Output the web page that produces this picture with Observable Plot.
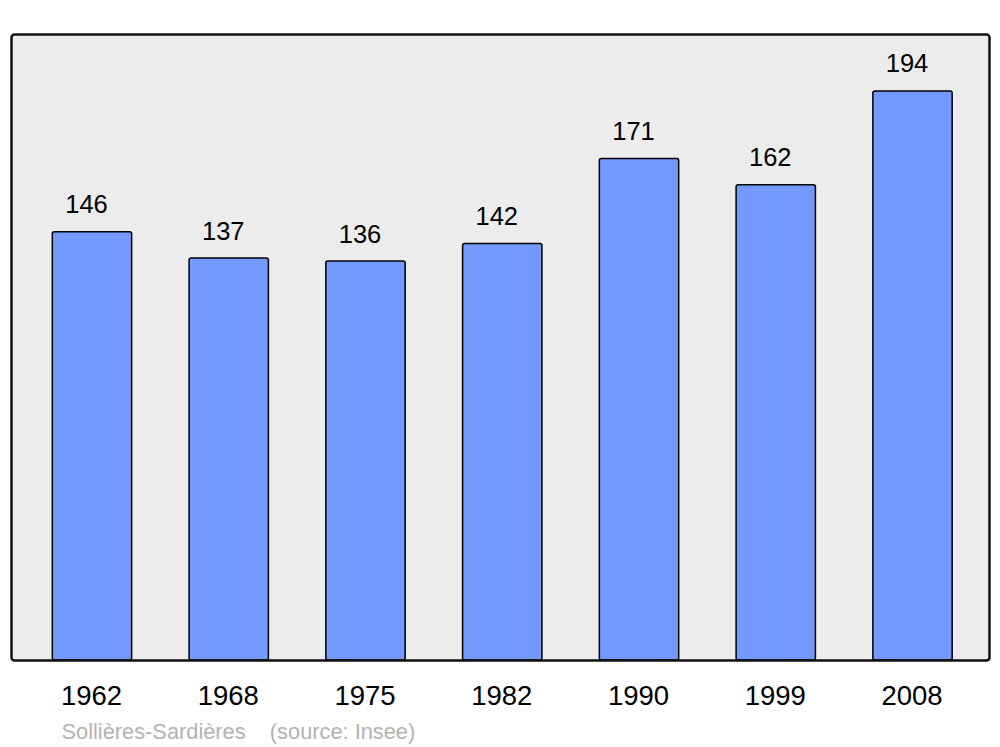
<!DOCTYPE html>
<html>
<head>
<meta charset="utf-8">
<script src="https://cdn.jsdelivr.net/npm/d3@7"></script>
<script src="https://cdn.jsdelivr.net/npm/@observablehq/plot@0.6"></script>
<style>
  html, body { margin: 0; padding: 0; background: #fff; }
</style>
</head>
<body>
<div id="chart"></div>
<script>
const years = ["1962", "1968", "1975", "1982", "1990", "1999", "2008"];
const population = [146, 137, 136, 142, 171, 162, 194];
const captionText = ["Sollières-Sardières    (source: Insee)"];

const data = years.map((year, i) => ({year, pop: population[i]}));
const yMax = d3.max(population) * 1.1;

const chart = Plot.plot({
  width: 1000,
  height: 747,
  marginTop: 34,
  marginBottom: 87,
  marginLeft: 11,
  marginRight: 11,
  style: {fontFamily: "'Liberation Sans', Arial, sans-serif", background: "#fff", overflow: "visible"},
  x: {domain: years, round: false, paddingInner: 0.42, paddingOuter: 0.21, insetLeft: 12.6, insetRight: 8.1, label: null},
  y: {domain: [0, yMax], axis: null},
  marks: [
    Plot.frame({fill: "#ececec", rx: 3}),
    Plot.barY(data, {x: "year", y: "pop", fill: "#7399ff", stroke: "#000", strokeWidth: 1.5, rx: 2}),
    Plot.frame({stroke: "#111", strokeWidth: 2.5, rx: 3}),
    Plot.text(data, {x: "year", y: "pop", text: d => String(d.pop), lineAnchor: "bottom", dy: -19, dx: -6, fontSize: 25.5, fill: "#000"}),
    Plot.axisX({tickSize: 0, tickPadding: 25, fontSize: 27.5, dx: -1, color: "#000", label: null}),
    Plot.text(captionText, {frameAnchor: "bottom-left", text: d => d, textAnchor: "start", lineAnchor: "bottom", dx: 50, dy: 78, fontSize: 21.8, fill: "#b3b3b3"})
  ]
});
document.getElementById("chart").appendChild(chart);
</script>
</body>
</html>
